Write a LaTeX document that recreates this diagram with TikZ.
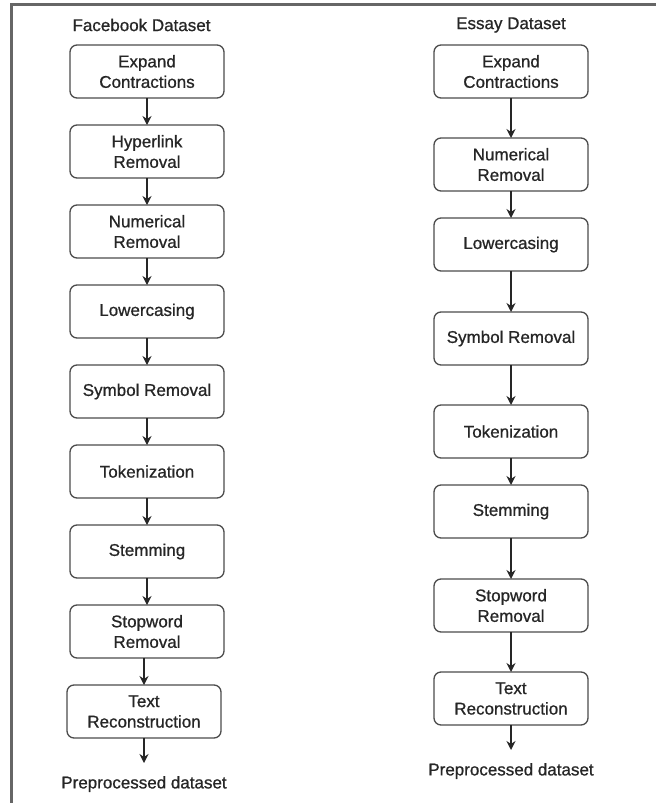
\documentclass[tikz,border=0pt]{standalone}
\usepackage{fontspec}
\setmainfont{Liberation Sans}[BoldFont=Liberation Sans, BoldFeatures={FakeBold=0.9}]
\usepackage{tikz}
\usetikzlibrary{positioning,arrows.meta}

\begin{document}
\begin{tikzpicture}[
  x=1pt, y=-1pt,
  box/.style={draw=black!70, line width=1.3pt, rounded corners=7pt, align=center, minimum width=154pt, minimum height=53pt, inner sep=2pt, outer sep=0pt, font=\fontsize{17}{20.5}\selectfont\bfseries, text=black!85},
  ttl/.style={align=center, font=\fontsize{17}{20.5}\selectfont\bfseries, text=black!85, inner sep=0pt},
  arr/.style={-{Stealth[length=9pt,width=9pt,inset=3pt]}, line width=1.4pt, draw=black!85}
]
\useasboundingbox (0,0) rectangle (656,803);
% frame
\draw[black!60, line width=2.5pt] (11.5,803) -- (11.5,4.5) -- (656,4.5);
% Facebook column
\node[ttl] (fbT) at (141.5,25) {Facebook Dataset};
\node[box] (f1) at (147,71.5) {Expand\\Contractions};
\node[box, below=27pt of f1] (f2) {Hyperlink\\Removal};
\node[box, below=27pt of f2] (f3) {Numerical\\Removal};
\node[box, below=27pt of f3] (f4) {Lowercasing};
\node[box, below=27pt of f4] (f5) {Symbol Removal};
\node[box, below=27pt of f5] (f6) {Tokenization};
\node[box, below=27pt of f6] (f7) {Stemming};
\node[box, below=27pt of f7] (f8) {Stopword\\Removal};
\node[box, below=27pt of f8, xshift=-3pt] (f9) {Text\\Reconstruction};
\coordinate[below=25pt of f9] (fE);
\node[ttl] (fOut) at ([yshift=-21pt]fE) {Preprocessed dataset};
% Essay column
\node[ttl] (esT) at (511,25) {Essay Dataset};
\node[box] (e1) at (511,71.5) {Expand\\Contractions};
\node[box, below=40pt of e1] (e2) {Numerical\\Removal};
\node[box, below=27pt of e2] (e3) {Lowercasing};
\node[box, below=41pt of e3] (e4) {Symbol Removal};
\node[box, below=40pt of e4] (e5) {Tokenization};
\node[box, below=27pt of e5] (e6) {Stemming};
\node[box, below=41pt of e6] (e7) {Stopword\\Removal};
\node[box, below=40pt of e7] (e8) {Text\\Reconstruction};
\coordinate[below=25pt of e8] (eE);
\node[ttl] (eOut) at ([yshift=-21pt]eE) {Preprocessed dataset};
% arrows
\draw[arr] (f1) -- (f2);
\draw[arr] (f2) -- (f3);
\draw[arr] (f3) -- (f4);
\draw[arr] (f4) -- (f5);
\draw[arr] (f5) -- (f6);
\draw[arr] (f6) -- (f7);
\draw[arr] (f7) -- (f8);
\draw[arr] (f8.south -| f9) -- (f9);
\draw[arr] (f9) -- (fE);
\draw[arr] (e1) -- (e2);
\draw[arr] (e2) -- (e3);
\draw[arr] (e3) -- (e4);
\draw[arr] (e4) -- (e5);
\draw[arr] (e5) -- (e6);
\draw[arr] (e6) -- (e7);
\draw[arr] (e7) -- (e8);
\draw[arr] (e8) -- (eE);
\end{tikzpicture}
\end{document}
